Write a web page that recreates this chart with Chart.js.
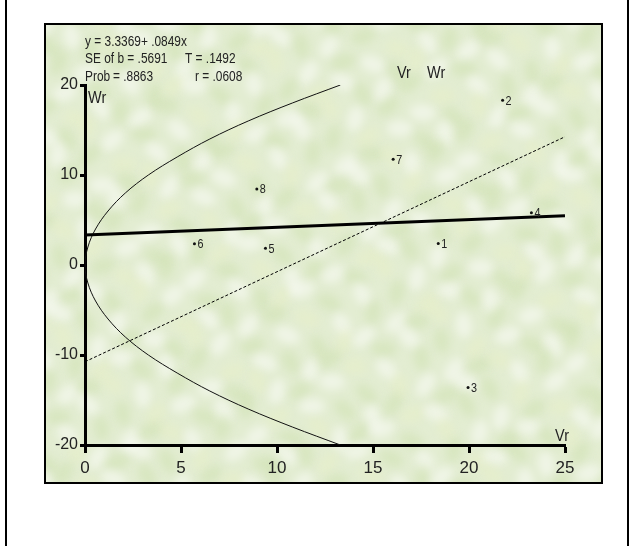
<!DOCTYPE html>
<html>
<head>
    <title>Vr Wr</title>
    <script src="https://cdn.jsdelivr.net/npm/chart.js"></script>
    <style>
        body { margin: 0; background: #fff; }
        #wrap { width: 630px; height: 546px; }
    </style>
</head>
<body>
<div id="wrap"><canvas id="vrwr" width="630" height="546"></canvas></div>

<script>
    // parents (array points)
    const parentNo = ['1', '2', '3', '4', '5', '6', '7', '8'];
    const vrValues = [18.4, 21.75, 19.95, 23.25, 9.4, 5.7, 16.05, 8.95];
    const wrValues = [2.4, 18.3, -13.6, 5.8, 1.85, 2.35, 11.75, 8.45];

    // regression of Wr on Vr
    const intercept = 3.3369;
    const slope = 0.0849;
    const seB = 0.5691;
    const tValue = 0.1492;
    const prob = 0.8863;
    const rValue = 0.0608;

    // unit slope line
    const unitVr = [0, 25];
    const unitWr = [-10.75, 14.25];

    // limiting parabola
    const parabolaVr = [13.3, 10.8, 8.5, 6.5, 4.8, 3.3, 2.1, 1.2, 0.55, 0.15, 0, 0.15, 0.55, 1.2, 2.1, 3.3, 4.8, 6.5, 8.5, 10.8, 13.3];
    const parabolaWr = [-20, -18, -16, -14, -12, -10, -8, -6, -4, -2, 0, 2, 4, 6, 8, 10, 12, 14, 16, 18, 20];

    const xTicks = [0, 5, 10, 15, 20, 25];
    const yTicks = [-20, -10, 0, 10, 20];

    const sans = "'Liberation Sans', Arial, sans-serif";

    function fmt(v) {
        return String(v).replace(/^0/, '');
    }

    const zip = (xs, ys) => xs.map((x, i) => ({ x: x, y: ys[i] }));

    // squeezed text, the labels use a narrow face
    function narrowText(c, str, x, y, sx) {
        c.save();
        c.translate(x, y);
        c.scale(sx, 1);
        c.fillText(str, 0, 0);
        c.restore();
    }

    const backdrop = {
        id: 'backdrop',
        beforeDraw(chart) {
            const c = chart.ctx;
            c.save();
            c.fillStyle = '#fff';
            c.fillRect(0, 0, chart.width, chart.height);
            c.fillStyle = '#000';
            c.fillRect(5, 0, 2, chart.height);
            c.fillRect(627, 0, 2, chart.height);

            // plot panel with a soft leafy wash
            c.fillStyle = '#e3edd2';
            c.fillRect(45, 24, 557, 459);
            c.beginPath();
            c.rect(45, 24, 557, 459);
            c.clip();
            c.filter = 'blur(4px)';
            for (let j = 0; j < 21; j++) {
                for (let i = 0; i < 22; i++) {
                    const px = 40 + i * 27 + 9 * Math.sin(j * 1.7 + i * 0.9);
                    const py = 20 + j * 23 + 7 * Math.cos(i * 2.3 + j);
                    const k = (i * 7 + j * 3) % 5;
                    c.fillStyle = k < 2 ? 'rgba(255,255,255,0.45)'
                        : k < 4 ? 'rgba(200,220,165,0.38)' : 'rgba(232,240,200,0.5)';
                    c.beginPath();
                    c.ellipse(px, py, 13, 8, (i + j) * 0.7, 0, Math.PI * 2);
                    c.fill();
                }
            }
            c.filter = 'none';
            c.restore();

            c.save();
            c.lineWidth = 2;
            c.strokeStyle = '#000';
            c.strokeRect(45, 24, 557, 459);
            c.restore();
        }
    };

    const texts = {
        id: 'texts',
        afterDatasetsDraw(chart) {
            const c = chart.ctx;
            const xs = chart.scales.x, ys = chart.scales.y;
            const area = chart.chartArea;
            c.save();
            c.fillStyle = '#222';
            c.textBaseline = 'middle';

            // point numbers
            c.font = '12px ' + sans;
            c.textAlign = 'left';
            parentNo.forEach((n, i) => {
                narrowText(c, n, xs.getPixelForValue(vrValues[i]) + 3, ys.getPixelForValue(wrValues[i]) + 1, 0.9);
            });

            // regression stats
            c.font = '14px ' + sans;
            narrowText(c, 'y = ' + intercept + '+ ' + fmt(slope) + 'x', 85, 42, 0.85);
            narrowText(c, 'SE of b = ' + fmt(seB), 85, 59, 0.85);
            narrowText(c, 'T = ' + fmt(tValue), 185, 59, 0.85);
            narrowText(c, 'Prob', 85, 77, 0.85);
            narrowText(c, '= ' + fmt(prob), 113, 77, 0.85);
            narrowText(c, 'r = ' + fmt(rValue), 195, 77, 0.85);

            // titles
            c.font = '17px ' + sans;
            narrowText(c, 'Vr', 397, 73, 0.85);
            narrowText(c, 'Wr', 427, 73, 0.85);
            narrowText(c, 'Wr', area.left + 3, area.top + 13, 0.85);
            c.textAlign = 'right';
            narrowText(c, 'Vr', area.right + 4, area.bottom - 9, 0.85);
            c.restore();
        }
    };

    const axisGrid = { drawOnChartArea: false, drawTicks: true, tickWidth: 3, tickColor: '#000' };

    new Chart(document.getElementById('vrwr'), {
        type: 'scatter',
        data: {
            datasets: [
                {
                    data: zip(vrValues, wrValues),
                    pointRadius: 1.5,
                    pointBackgroundColor: '#111',
                    pointBorderWidth: 0,
                    showLine: false
                },
                {
                    data: [{ x: 0, y: intercept }, { x: 25, y: intercept + slope * 25 }],
                    showLine: true,
                    borderColor: '#000',
                    borderWidth: 3,
                    pointRadius: 0
                },
                {
                    data: zip(unitVr, unitWr),
                    showLine: true,
                    borderColor: '#000',
                    borderWidth: 1,
                    borderDash: [3, 2],
                    pointRadius: 0
                },
                {
                    data: zip(parabolaVr, parabolaWr),
                    showLine: true,
                    borderColor: '#111',
                    borderWidth: 1,
                    tension: 0.35,
                    pointRadius: 0
                }
            ]
        },
        options: {
            responsive: false,
            animation: false,
            layout: { padding: { left: 0, right: 65, top: 85, bottom: 0 } },
            plugins: { legend: { display: false }, tooltip: { enabled: false } },
            scales: {
                x: {
                    type: 'linear',
                    min: xTicks[0],
                    max: xTicks[xTicks.length - 1],
                    afterBuildTicks: s => { s.ticks = xTicks.map(v => ({ value: v })); },
                    afterFit: s => { s.height = 101; },
                    grid: Object.assign({ tickLength: 8 }, axisGrid),
                    border: { display: true, color: '#000', width: 3 },
                    ticks: { color: '#222', padding: 5, font: { family: sans, size: 17 } }
                },
                y: {
                    type: 'linear',
                    min: yTicks[0],
                    max: yTicks[yTicks.length - 1],
                    afterBuildTicks: s => { s.ticks = yTicks.map(v => ({ value: v })); },
                    afterFit: s => { s.width = 85; },
                    grid: Object.assign({ tickLength: 5 }, axisGrid),
                    border: { display: true, color: '#000', width: 3 },
                    ticks: { color: '#222', padding: 2, font: { family: sans, size: 16 } }
                }
            }
        },
        plugins: [backdrop, texts]
    });
</script>
</body>
</html>
